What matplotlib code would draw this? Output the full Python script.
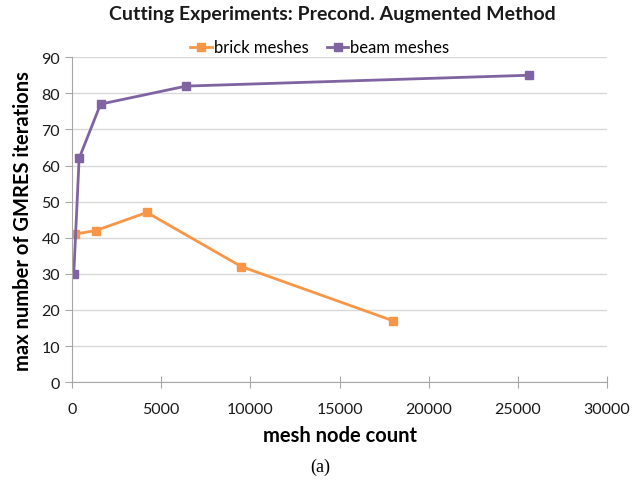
import matplotlib
matplotlib.use('Agg')
import matplotlib.pyplot as plt

# values
brick_nodes = [170, 1350, 4200, 9500, 18000]
brick_iters = [41, 42, 47, 32, 17]
beam_nodes = [100, 400, 1600, 6400, 25600]
beam_iters = [30, 62, 77, 82, 85]

orange = '#F79646'
purple = '#8064A2'
plt.rcParams['font.family'] = ['Lato', 'DejaVu Sans']

fig = plt.figure(figsize=(6.4, 4.85), dpi=100)
ax = fig.add_axes([0.1125, 0.21, 0.836, 0.67])

ax.plot(brick_nodes, brick_iters, '-s', color=orange, lw=2, ms=6, label='brick meshes')
ax.plot(beam_nodes, beam_iters, '-s', color=purple, lw=2, ms=6, label='beam meshes')

ax.set_xlim(0, 30000)
ax.set_ylim(0, 90)
ax.set_xticks(range(0, 30001, 5000))
ax.set_yticks(range(0, 91, 10))
ax.yaxis.grid(True, color='#D9D9D9', lw=1)
ax.set_axisbelow(True)
for s in ['top', 'right']:
    ax.spines[s].set_visible(False)
for s in ['left', 'bottom']:
    ax.spines[s].set_color('#A6A6A6')
ax.tick_params(axis='both', colors='#A6A6A6', labelcolor='#1a1a1a', labelsize=11.5, length=5)
ax.tick_params(axis='x', direction='inout', length=8, pad=10)

ax.set_xlabel('mesh node count', fontsize=14.5, fontweight='bold', labelpad=7)
ax.set_ylabel('max number of GMRES iterations', fontsize=14.5, fontweight='bold', labelpad=6)
fig.text(0.52, 0.97, 'Cutting Experiments: Precond. Augmented Method', ha='center', va='center',
         fontsize=14, fontweight='bold', color='#1a1a1a')
ax.legend(loc='lower center', bbox_to_anchor=(0.463, 0.985), ncol=2, frameon=False, fontsize=12,
          handlelength=1.3, handletextpad=0.1, columnspacing=1.1, borderaxespad=0)
fig.text(0.5, 0.037, '(a)', ha='center', va='center', fontsize=13, family='Liberation Serif')

fig.savefig('out.png', dpi=100)
